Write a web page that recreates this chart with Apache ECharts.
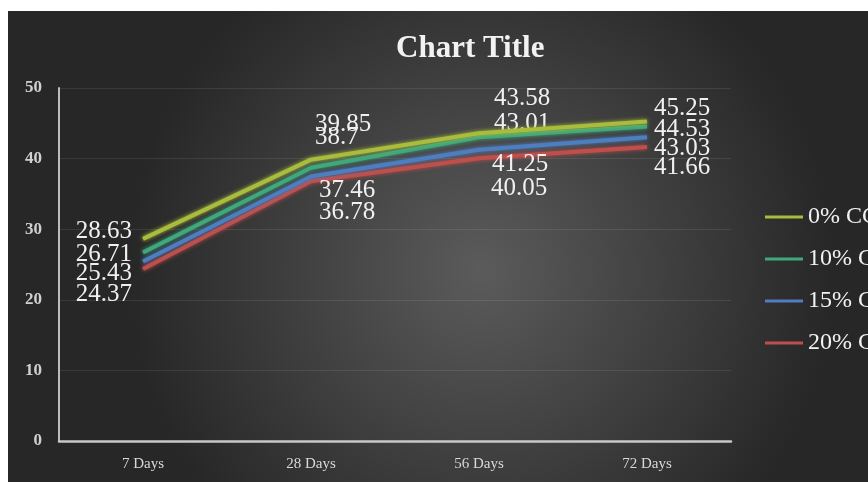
<!DOCTYPE html>
<html>
<head>
<meta charset="utf-8">
<script src="https://cdn.jsdelivr.net/npm/echarts@6/dist/echarts.min.js"></script>
<style>html,body{margin:0;padding:0;background:#fff}#c{width:868px;height:482px}</style>
</head>
<body>
<div id="c"></div>
<script>
const categories = ['7 Days', '28 Days', '56 Days', '72 Days'];
const seriesNames = ['0% CC', '10% C', '15% C', '20% C'];
const s0 = [28.63, 39.85, 43.58, 45.25];
const s1 = [26.71, 38.7, 43.01, 44.53];
const s2 = [25.43, 37.46, 41.25, 43.03];
const s3 = [24.37, 36.78, 40.05, 41.66];
const yTicks = [0, 10, 20, 30, 40, 50];

const colors = ['#a9bc3c', '#3fa87c', '#4d7fc0', '#c04f4c'];
// label placement styles [dx, dy, align] per series per point
const labelPlace = [
  [[-11, -7, 'right'], [4, -35, 'left'], [15, -35, 'left'], [7, -13, 'left']],
  [[-11, 2, 'right'], [4, -30, 'left'], [15, -14, 'left'], [7, 3, 'left']],
  [[-11, 12, 'right'], [8, 14, 'left'], [13, 15, 'left'], [7, 11, 'left']],
  [[-11, 25, 'right'], [8, 31, 'left'], [12, 30, 'left'], [7, 21, 'left']]
];
const allSeries = [s0, s1, s2, s3];
const serif = '"Liberation Serif", "Times New Roman", serif';

const chart = echarts.init(document.getElementById('c'), null, {renderer: 'canvas'});
chart.setOption({
  backgroundColor: '#ffffff',
  animation: false,
  graphic: [{
    type: 'rect', z: -100, silent: true,
    shape: {x: 8, y: 11, width: 860, height: 471},
    style: {fill: {type: 'radial', x: 0.55, y: 0.55, r: 0.75,
      colorStops: [{offset: 0, color: '#5b5b5b'}, {offset: 1, color: '#272727'}]}}
  }],
  title: {
    text: 'Chart Title', left: 391, top: 28,
    textStyle: {fontFamily: serif, fontSize: 31, fontWeight: 'bold', color: '#f2f2f2'}
  },
  legend: {
    orient: 'vertical', left: 760, top: 200, itemGap: 18,
    itemWidth: 38, itemHeight: 3, icon: 'rect',
    data: seriesNames,
    textStyle: {fontFamily: serif, fontSize: 24, lineHeight: 24, color: '#f2f2f2'}
  },
  grid: {left: 59, right: 137, top: 88, bottom: 41, containLabel: false},
  xAxis: {
    type: 'category', data: categories, boundaryGap: true,
    axisLine: {lineStyle: {color: '#c8c8c8', width: 2.5}},
    axisTick: {show: false},
    axisLabel: {fontFamily: serif, fontSize: 15, color: '#d9d9d9', margin: 16}
  },
  yAxis: {
    type: 'value', min: yTicks[0], max: yTicks[yTicks.length - 1], interval: 10,
    axisLine: {show: true, lineStyle: {color: '#bdbdbd', width: 2}},
    axisTick: {show: false},
    axisLabel: {fontFamily: serif, fontSize: 17, fontWeight: 'bold', color: '#d0d0d0', margin: 17},
    splitLine: {lineStyle: {color: 'rgba(255,255,255,0.09)', width: 1}}
  },
  series: allSeries.map((vals, si) => ({
    name: seriesNames[si], type: 'line', z: 10 - si,
    showSymbol: true, symbol: 'circle', symbolSize: 0.1,
    itemStyle: {color: colors[si]},
    lineStyle: {color: colors[si], width: 4, shadowColor: colors[si], shadowBlur: 4},
    data: vals.map((v, i) => ({
      value: v,
      label: {
        show: true, position: 'inside',
        offset: [labelPlace[si][i][0], labelPlace[si][i][1]],
        align: labelPlace[si][i][2], verticalAlign: 'middle',
        fontFamily: serif, fontSize: 25, color: '#f0f0f0'
      }
    }))
  }))
});
</script>
</body>
</html>
